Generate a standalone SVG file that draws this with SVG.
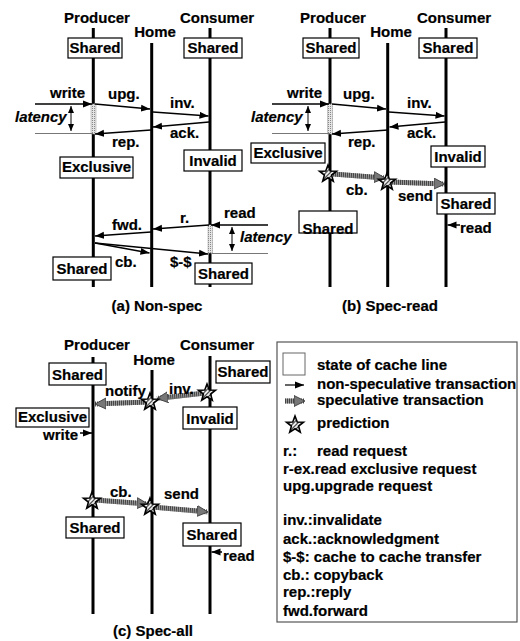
<svg xmlns="http://www.w3.org/2000/svg" width="520" height="641" viewBox="0 0 520 641">
<style>
.t{font-family:"Liberation Sans",Arial,Helvetica,sans-serif;font-weight:bold;font-size:15px;fill:#000;stroke:#000;stroke-width:0.2}
.c{text-anchor:middle}
.it{font-style:italic}
.life{stroke:#000;stroke-width:3}
.box{fill:#fff;stroke:#000;stroke-width:1.2}
.ns{stroke:#000;stroke-width:1.5;fill:none;marker-end:url(#ah)}
.gl{stroke:#777;stroke-width:1}
.lat{stroke:#000;stroke-width:1;marker-start:url(#sa);marker-end:url(#sa)}
.sb{stroke:#999;stroke-width:5}
.sd{stroke:#444;stroke-width:5;stroke-dasharray:1 1;marker-end:url(#sh)}
.shade{fill:url(#dots);stroke:#999;stroke-width:0.5}
.star{fill:url(#hatch);stroke:#000;stroke-width:1.6;stroke-linejoin:miter}
</style>
<defs>
<marker id="ah" markerUnits="userSpaceOnUse" markerWidth="10" markerHeight="8" refX="9" refY="4" orient="auto"><path d="M0,0.5 L9,4 L0,7.5 z" fill="#000"/></marker>
<marker id="sa" markerUnits="userSpaceOnUse" markerWidth="8" markerHeight="8" refX="7" refY="3" orient="auto-start-reverse"><path d="M0,0 L7,3 L0,6 z" fill="#000"/></marker>
<marker id="sh" markerUnits="userSpaceOnUse" markerWidth="14" markerHeight="14" refX="11" refY="6" orient="auto"><path d="M0,0.5 L11,6 L0,11.5 z" fill="#777" stroke="#333" stroke-width="0.8"/></marker>
<pattern id="dots" width="2" height="2" patternUnits="userSpaceOnUse"><rect width="2" height="2" fill="#e4e4e4"/><rect width="1" height="1" fill="#888"/></pattern>
<pattern id="hatch" width="3" height="3" patternUnits="userSpaceOnUse" patternTransform="rotate(-45)"><rect width="3" height="3" fill="#fff"/><rect width="3" height="1.2" fill="#333"/></pattern>
<path id="st" class="star" d="M0,-9 L2.23,-3.07 L8.56,-2.78 L3.61,1.17 L5.29,7.28 L0,3.8 L-5.29,7.28 L-3.61,1.17 L-8.56,-2.78 L-2.23,-3.07 Z"/>
</defs>
<rect width="520" height="641" fill="#fff"/>

<!-- Panel (a) -->
<g id="a-producer"><text class="t c" x="97" y="22.5">Producer</text><line class="life" x1="93.3" y1="28" x2="93.3" y2="287"/></g>
<g id="a-home"><text class="t c" x="155" y="37">Home</text><line class="life" x1="151.7" y1="43" x2="151.7" y2="287"/></g>
<g id="a-consumer"><text class="t c" x="217" y="22.5">Consumer</text><line class="life" x1="210" y1="28" x2="210" y2="287"/></g>

<g id="a-latency">
<rect class="shade" x="91" y="104" width="5" height="30"/>
<rect class="shade" x="208" y="225" width="4.5" height="28"/>
<line class="gl" x1="35" y1="133.5" x2="93" y2="133.5"/>
<line class="gl" x1="212" y1="253.5" x2="268" y2="253.5"/>
<line class="lat" x1="71" y1="106" x2="71" y2="131"/>
<line class="lat" x1="232" y1="227" x2="232" y2="251"/>
<text class="t it" x="15" y="122">latency</text>
<text class="t it" x="240" y="242">latency</text>
</g>

<g id="a-connectors">
<line class="ns" x1="35" y1="104" x2="92" y2="104"/>
<line class="ns" x1="95" y1="104" x2="150" y2="109"/>
<line class="ns" x1="153" y1="112" x2="208.5" y2="116"/>
<line class="ns" x1="209" y1="122" x2="153" y2="127"/>
<line class="ns" x1="151" y1="130" x2="95" y2="134"/>
<line class="ns" x1="268" y1="225" x2="211" y2="225"/>
<line class="ns" x1="209" y1="225" x2="153" y2="229"/>
<line class="ns" x1="151" y1="232" x2="95" y2="236"/>
<line class="ns" x1="95" y1="243" x2="149.5" y2="253"/>
<line class="ns" x1="95" y1="243" x2="208" y2="254"/>
<text class="t" x="50" y="98">write</text>
<text class="t" x="108" y="99">upg.</text>
<text class="t" x="170" y="108">inv.</text>
<text class="t" x="170" y="138">ack.</text>
<text class="t" x="112" y="147">rep.</text>
<text class="t" x="224" y="218">read</text>
<text class="t" x="180" y="223">r.</text>
<text class="t" x="112" y="230">fwd.</text>
<text class="t" x="115" y="267">cb.</text>
<text class="t" x="170" y="267">$-$</text>
</g>

<g id="a-state-shared-p"><rect class="box" x="68" y="38" width="54" height="20"/><text class="t c" x="95" y="53">Shared</text></g>
<g id="a-state-shared-c"><rect class="box" x="184" y="38" width="58" height="20"/><text class="t c" x="213" y="53">Shared</text></g>
<g id="a-state-excl-p"><rect class="box" x="60" y="157" width="73" height="21"/><text class="t c" x="96.5" y="172">Exclusive</text></g>
<g id="a-state-inv-c"><rect class="box" x="184" y="150" width="58" height="21"/><text class="t c" x="213" y="166">Invalid</text></g>
<g id="a-state-shared-p2"><rect class="box" x="53" y="257" width="58" height="23"/><text class="t c" x="82" y="274">Shared</text></g>
<g id="a-state-shared-c2"><rect class="box" x="195" y="263" width="57" height="21"/><text class="t c" x="223.5" y="279">Shared</text></g>
<text class="t c" x="157" y="311">(a) Non-spec</text>

<!-- Panel (b) -->
<g id="b-producer"><text class="t c" x="333" y="22.5">Producer</text><line class="life" x1="330" y1="28" x2="330" y2="287"/></g>
<g id="b-home"><text class="t c" x="391" y="37">Home</text><line class="life" x1="387.7" y1="43" x2="387.7" y2="287"/></g>
<g id="b-consumer"><text class="t c" x="454" y="22.5">Consumer</text><line class="life" x1="446" y1="28" x2="446" y2="287"/></g>

<g id="b-latency">
<rect class="shade" x="327.5" y="104" width="5" height="30"/>
<line class="gl" x1="272" y1="133.5" x2="330" y2="133.5"/>
<line class="lat" x1="308" y1="106" x2="308" y2="131"/>
<text class="t it" x="251" y="122">latency</text>
</g>

<g id="b-connectors">
<line class="ns" x1="272" y1="104" x2="329" y2="104"/>
<line class="ns" x1="332" y1="104" x2="386" y2="109"/>
<line class="ns" x1="389" y1="112" x2="444.5" y2="116"/>
<line class="ns" x1="445" y1="122" x2="389.5" y2="127"/>
<line class="ns" x1="388" y1="130" x2="332" y2="134"/>
<line class="ns" x1="460" y1="225" x2="447.5" y2="225"/>
<line class="sb" x1="333" y1="174" x2="378" y2="177.6"/>
<line class="sd" x1="333" y1="174" x2="385" y2="178"/>
<line class="sb" x1="390" y1="182" x2="437" y2="183.7"/>
<line class="sd" x1="390" y1="182" x2="445" y2="184"/>
<text class="t" x="287" y="98">write</text>
<text class="t" x="343" y="99">upg.</text>
<text class="t" x="407" y="108">inv.</text>
<text class="t" x="407" y="138">ack.</text>
<text class="t" x="348" y="147">rep.</text>
<text class="t" x="346" y="195">cb.</text>
<text class="t" x="398" y="201">send</text>
<text class="t" x="460" y="233">read</text>
</g>

<g id="b-state-shared-p"><rect class="box" x="303" y="38" width="56" height="20"/><text class="t c" x="331" y="53">Shared</text></g>
<g id="b-state-shared-c"><rect class="box" x="419" y="38" width="58" height="20"/><text class="t c" x="448" y="53">Shared</text></g>
<g id="b-state-excl-p"><rect class="box" x="251" y="143" width="74" height="20"/><text class="t c" x="288" y="158">Exclusive</text></g>
<g id="b-state-inv-c"><rect class="box" x="431" y="146" width="54" height="21"/><text class="t c" x="458" y="162">Invalid</text></g>
<g id="b-state-shared-c2"><rect class="box" x="437" y="193" width="58" height="21"/><text class="t c" x="466" y="209">Shared</text></g>
<g id="b-state-shared-p2"><rect class="box" x="299" y="211" width="58" height="22"/><text class="t c" x="328" y="234">Shared</text></g>
<g id="b-predictions"><use href="#st" x="328" y="174"/><use href="#st" x="387" y="182"/></g>
<text class="t c" x="390" y="311">(b) Spec-read</text>

<!-- Panel (c) -->
<g id="c-producer"><text class="t c" x="97" y="350">Producer</text><line class="life" x1="93" y1="357" x2="93" y2="614"/></g>
<g id="c-home"><text class="t c" x="154" y="365">Home</text><line class="life" x1="152" y1="370" x2="152" y2="614"/></g>
<g id="c-consumer"><text class="t c" x="217" y="350">Consumer</text><line class="life" x1="210" y1="356" x2="210" y2="614"/></g>

<g id="c-connectors">
<line class="sb" x1="205" y1="393" x2="166" y2="397.5"/>
<line class="sd" x1="205" y1="393" x2="157" y2="398.5"/>
<line class="sb" x1="148" y1="402" x2="105" y2="403.6"/>
<line class="sd" x1="148" y1="402" x2="95" y2="404"/>
<line class="ns" x1="80" y1="433" x2="92" y2="433"/>
<line class="sb" x1="95" y1="500" x2="138" y2="503.2"/>
<line class="sd" x1="95" y1="500" x2="148" y2="504"/>
<line class="sb" x1="152" y1="507" x2="198" y2="511"/>
<line class="sd" x1="152" y1="507" x2="208" y2="512"/>
<line class="ns" x1="222" y1="552" x2="211.5" y2="552"/>
<text class="t" x="105" y="396">notify</text>
<text class="t" x="169" y="394">inv.</text>
<text class="t" x="43" y="440">write</text>
<text class="t" x="110" y="497">cb.</text>
<text class="t" x="164" y="499">send</text>
<text class="t" x="223" y="561">read</text>
</g>

<g id="c-state-shared-p"><rect class="box" x="49" y="363" width="57" height="22"/><text class="t c" x="77.5" y="380">Shared</text></g>
<g id="c-state-shared-c"><rect class="box" x="216" y="361" width="54" height="22"/><text class="t c" x="243" y="377">Shared</text></g>
<g id="c-state-excl-p"><rect class="box" x="16" y="408" width="73" height="19"/><text class="t c" x="52.5" y="422">Exclusive</text></g>
<g id="c-state-inv-c"><rect class="box" x="183" y="407" width="54" height="22"/><text class="t c" x="210" y="424">Invalid</text></g>
<g id="c-state-shared-p2"><rect class="box" x="66" y="517" width="58" height="21"/><text class="t c" x="95" y="533">Shared</text></g>
<g id="c-state-shared-c2"><rect class="box" x="183" y="523" width="58" height="23"/><text class="t c" x="212" y="540">Shared</text></g>
<g id="c-predictions"><use href="#st" x="150" y="402"/><use href="#st" x="207" y="393"/><use href="#st" x="92" y="501"/><use href="#st" x="150" y="507"/></g>
<text class="t c" x="153" y="636">(c) Spec-all</text>

<!-- Legend -->
<g id="legend">
<rect x="277" y="342" width="240" height="280" fill="#fff" stroke="#555" stroke-width="1.2"/>
<rect x="283" y="353" width="22" height="22" fill="#fff" stroke="#666" stroke-width="1"/>
<text class="t" x="317" y="370">state of cache line</text>
<line class="ns" x1="285" y1="385" x2="304" y2="385" style="stroke-width:1.2"/>
<text class="t" x="317" y="389">non-speculative transaction</text>
<line class="sb" x1="285" y1="401" x2="294" y2="401"/>
<line class="sd" x1="285" y1="401" x2="305" y2="401"/>
<text class="t" x="317" y="405">speculative transaction</text>
<use href="#st" x="295" y="425"/>
<text class="t" x="317" y="428">prediction</text>
<text class="t" x="283" y="456">r.:</text>
<text class="t" x="317" y="456">read request</text>
<text class="t" x="283" y="474">r-ex.read exclusive request</text>
<text class="t" x="283" y="491">upg.upgrade request</text>
<text class="t" x="283" y="525">inv.:invalidate</text>
<text class="t" x="283" y="544">ack.:acknowledgment</text>
<text class="t" x="283" y="562">$-$: cache to cache transfer</text>
<text class="t" x="283" y="580">cb.: copyback</text>
<text class="t" x="283" y="597">rep.:reply</text>
<text class="t" x="283" y="616">fwd.forward</text>
</g>
</svg>
